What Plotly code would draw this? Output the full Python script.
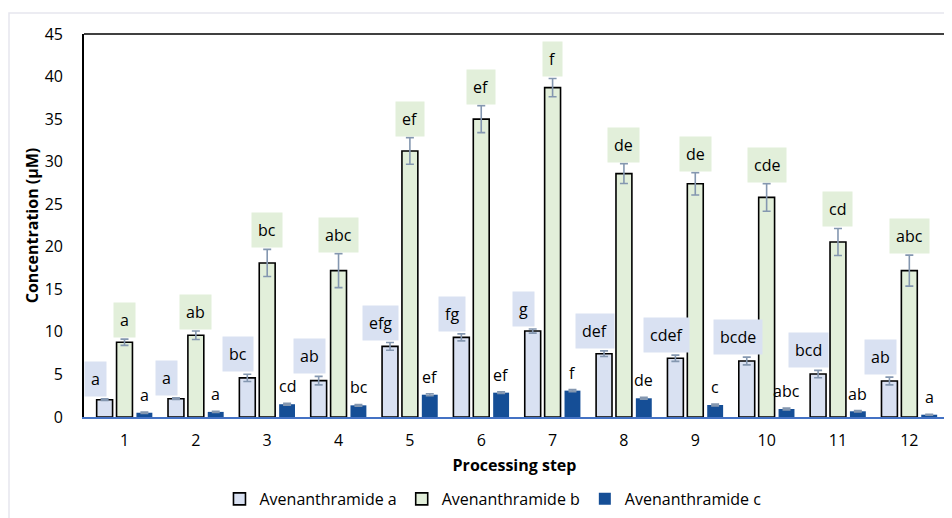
import plotly.graph_objects as go

steps = [str(i) for i in range(1, 13)]

avn_a = [2.03, 2.15, 4.6, 4.27, 8.3, 9.36, 10.1, 7.44, 6.9, 6.58, 5.05, 4.23]
avn_a_err = [0.1, 0.1, 0.43, 0.5, 0.45, 0.41, 0.24, 0.33, 0.37, 0.45, 0.43, 0.45]
avn_a_lbl = ["a", "a", "bc", "ab", "efg", "fg", "g", "def", "cdef", "bcde", "bcd", "ab"]

avn_b = [8.78, 9.6, 18.1, 17.2, 31.26, 35.0, 38.7, 28.6, 27.4, 25.8, 20.56, 17.2]
avn_b_err = [0.37, 0.5, 1.6, 2.0, 1.56, 1.59, 1.08, 1.17, 1.31, 1.62, 1.59, 1.82]
avn_b_lbl = ["a", "ab", "bc", "abc", "ef", "ef", "f", "de", "de", "cde", "cd", "abc"]

avn_c = [0.5, 0.6, 1.5, 1.37, 2.62, 2.86, 3.1, 2.2, 1.41, 0.94, 0.67, 0.27]
avn_c_err = [0.08, 0.08, 0.1, 0.1, 0.12, 0.1, 0.12, 0.1, 0.1, 0.1, 0.08, 0.05]
avn_c_lbl = ["a", "a", "cd", "bc", "ef", "ef", "f", "de", "c", "abc", "ab", "a"]

COL_A = "#D9E1F2"
COL_B = "#E2EFDA"
COL_C = "#154E96"
ERR_COL = "#8497B0"
FONT = "Open Sans"

fig = go.Figure()

def add_bar(name, vals, errs, fill, outline):
    fig.add_trace(go.Bar(
        name=name, x=steps, y=vals,
        marker=dict(color=fill, line=dict(color=outline, width=1.6 if outline != fill else 0)),
        error_y=dict(type="data", array=errs, visible=True, color=ERR_COL, thickness=1.6, width=4),
    ))

add_bar("Avenanthramide a", avn_a, avn_a_err, COL_A, "#000000")
add_bar("Avenanthramide b", avn_b, avn_b_err, COL_B, "#000000")
add_bar("Avenanthramide c", avn_c, avn_c_err, COL_C, COL_C)

# letter annotations (x given as category index)
for i in range(len(steps)):
    fig.add_annotation(x=i, y=avn_a[i] + avn_a_err[i], text=avn_a_lbl[i], showarrow=False,
                       xshift=-20 - 9, yshift=2, yanchor="bottom", bgcolor=COL_A, borderpad=6,
                       font=dict(family=FONT, size=16, color="#000000"))
    fig.add_annotation(x=i, y=avn_b[i] + avn_b_err[i], text=avn_b_lbl[i], showarrow=False,
                       xshift=0, yshift=1, yanchor="bottom", bgcolor=COL_B, borderpad=6,
                       font=dict(family=FONT, size=16, color="#000000"))
    fig.add_annotation(x=i, y=avn_c[i] + avn_c_err[i], text=avn_c_lbl[i], showarrow=False,
                       xshift=20, yshift=4, yanchor="bottom",
                       font=dict(family=FONT, size=16, color="#000000"))

# plot area top border
fig.add_shape(type="line", xref="paper", yref="paper", x0=0, x1=1, y0=1, y1=1,
              line=dict(color="#000000", width=1.6))
# outer chart frame
fig.add_shape(type="rect", xref="paper", yref="paper",
              x0=(1 - 76) / 861, x1=1.2, y0=(409 - 5) / 383, y1=-0.6,
              line=dict(color="#E6E6EE", width=1.5), layer="below")

fig.update_layout(
    width=944, height=510,
    margin=dict(l=76, r=7, t=26, b=101, autoexpand=False),
    paper_bgcolor="#FFFFFF", plot_bgcolor="#FFFFFF",
    barmode="group", bargap=0.164, bargroupgap=0.2,
    font=dict(family=FONT, size=16, color="#000000"),
    showlegend=True,
    legend=dict(orientation="h", x=0.475, xanchor="center", y=-0.214, yanchor="middle",
                font=dict(family=FONT, size=16, color="#000000"), bgcolor="rgba(0,0,0,0)"),
    xaxis=dict(
        type="category", automargin=False,
        title=dict(text="<b>Processing step</b>", font=dict(family=FONT, size=16), standoff=10),
        showline=True, linecolor="#4472C4", linewidth=1.6, mirror=False,
        ticks="outside", ticklen=8, tickcolor="rgba(0,0,0,0)",
        tickfont=dict(family=FONT, size=16), showgrid=False,
    ),
    yaxis=dict(
        automargin=False,
        title=dict(text="<b>Concentration (µM)</b>", font=dict(family=FONT, size=16), standoff=2),
        range=[0, 45], dtick=5, tick0=0,
        showline=True, linecolor="#000000", linewidth=1.6, mirror=True,
        ticks="outside", ticklen=16, tickcolor="rgba(0,0,0,0)",
        tickfont=dict(family=FONT, size=16), showgrid=False, zeroline=False,
    ),
)

fig.write_html("out.html")
